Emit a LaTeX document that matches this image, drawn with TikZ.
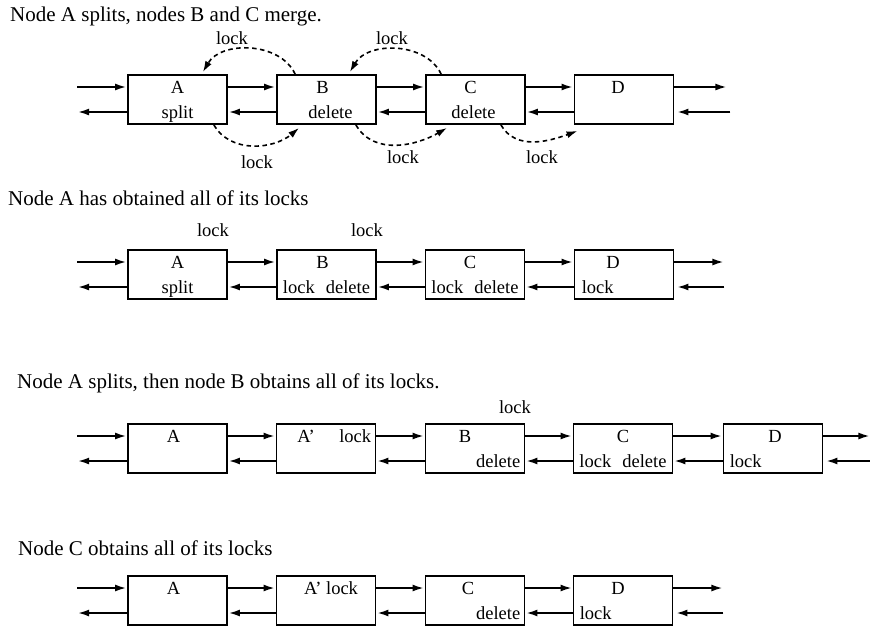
\documentclass[tikz,border=0pt]{standalone}
\usepackage{fontspec}
\setmainfont{Liberation Serif}
\usetikzlibrary{arrows.meta}

\begin{document}
\begin{tikzpicture}[x=1pt,y=-1pt,>={Latex[length=11pt,width=7pt]},
    box/.style={draw,line width=1.8pt,minimum width=99pt,minimum height=49pt,inner sep=0pt},
    txt/.style={inner sep=0pt,text height=12pt,text depth=0pt,font=\fontsize{18.5}{18.5}\selectfont},
    ttl/.style={anchor=west,inner sep=0pt,text height=14pt,text depth=0pt,font=\fontsize{21}{21}\selectfont},
    link/.style={->,line width=1.7pt,shorten >=1pt},
    lockarc/.style={->,line width=1.6pt,dash pattern=on 4.5pt off 3.5pt}]

\useasboundingbox (0,0) rectangle (870,627);

% Row 1
\node[ttl] (t1) at (10,14) {Node A splits, nodes B and C merge.};
\node[box] (A1) at (177.5,99.5) {};
\node[box] (B1) at (326.5,99.5) {};
\node[box] (C1) at (475.5,99.5) {};
\node[box] (D1) at (624,99.5) {};

\node[txt] (a1) at ([yshift=12.5pt]A1.center) {A};
\node[txt] (s1) at ([yshift=-12.5pt]A1.center) {split};
\node[txt] (b1) at ([xshift=-4pt,yshift=12.5pt]B1.center) {B};
\node[txt] (d1) at ([xshift=4pt,yshift=-12.5pt]B1.center) {delete};
\node[txt] (c1) at ([xshift=-5pt,yshift=12.5pt]C1.center) {C};
\node[txt] (e1) at ([xshift=-2pt,yshift=-12.5pt]C1.center) {delete};
\node[txt] (dd1) at ([xshift=-6pt,yshift=12.5pt]D1.center) {D};

\coordinate (L1) at ([xshift=-50pt]A1.west);
\coordinate (R1) at ([xshift=53pt]D1.east);
\draw[link] ([yshift=12.5pt]L1) -- ([yshift=12.5pt]A1.west);
\draw[link] ([yshift=-12.5pt]A1.west) -- ([yshift=-12.5pt]L1);
\foreach \a/\b in {A1/B1,B1/C1,C1/D1} {
  \draw[link] ([yshift=12.5pt]\a.east) -- ([yshift=12.5pt]\b.west);
  \draw[link] ([yshift=-12.5pt]\b.west) -- ([yshift=-12.5pt]\a.east);
}
\draw[link] ([yshift=12.5pt]D1.east) -- ([yshift=12.5pt]R1);
\draw[link,shorten >=3pt] ([xshift=3pt,yshift=-12.5pt]R1) -- ([yshift=-12.5pt]D1.east);

% Lock requests
\draw[lockarc] ([xshift=19pt]B1.north west) to[out=115,in=60] ([xshift=-25pt,yshift=2pt]A1.north east);
\draw[lockarc] ([xshift=16pt]C1.north west) to[out=115,in=60] ([xshift=-27pt,yshift=2pt]B1.north east);
\draw[lockarc] ([xshift=-14pt]A1.south east) to[out=-60,in=-140] ([xshift=23pt,yshift=-3pt]B1.south west);
\draw[lockarc] ([xshift=-21pt]B1.south east) to[out=-60,in=-150] ([xshift=22pt,yshift=-3pt]C1.south west);
\draw[lockarc] ([xshift=-25pt]C1.south east) to[out=-60,in=-160] ([xshift=4pt,yshift=-6pt]D1.south west);

\node[txt] (lk1) at (232,38) {lock};
\node[txt] (lk2) at (392,38) {lock};
\node[txt] (lk3) at (257,162) {lock};
\node[txt] (lk4) at (403,157) {lock};
\node[txt] (lk5) at (542,157) {lock};

% Row 2
\node[ttl] (t2) at (8,198) {Node A has obtained all of its locks};
\node[box] (A2) at (177.5,274.5) {};
\node[box] (B2) at (326.5,274.5) {};
\node[box] (C2) at (475,274.5) {};
\node[box] (D2) at (624,274.5) {};

\node[txt] (a2) at ([yshift=12.5pt]A2.center) {A};
\node[txt] (s2) at ([yshift=-12.5pt]A2.center) {split};
\node[txt] (b2) at ([xshift=-4pt,yshift=12.5pt]B2.center) {B};
\node[txt] (d2) at ([yshift=-12.5pt]B2.center) {lock\hspace{11pt}delete};
\node[txt] (c2) at ([xshift=-5pt,yshift=12.5pt]C2.center) {C};
\node[txt] (e2) at ([yshift=-12.5pt]C2.center) {lock\hspace{11pt}delete};
\node[txt] (dd2) at ([xshift=-11pt,yshift=12.5pt]D2.center) {D};
\node[txt,anchor=west] (k2) at ([xshift=8pt,yshift=-12.5pt]D2.west) {lock};

\coordinate (L2) at ([xshift=-50pt]A2.west);
\coordinate (R2) at ([xshift=50pt]D2.east);
\draw[link] ([yshift=12.5pt]L2) -- ([yshift=12.5pt]A2.west);
\draw[link] ([yshift=-12.5pt]A2.west) -- ([yshift=-12.5pt]L2);
\foreach \a/\b in {A2/B2,B2/C2,C2/D2} {
  \draw[link] ([yshift=12.5pt]\a.east) -- ([yshift=12.5pt]\b.west);
  \draw[link] ([yshift=-12.5pt]\b.west) -- ([yshift=-12.5pt]\a.east);
}
\draw[link] ([yshift=12.5pt]D2.east) -- ([yshift=12.5pt]R2);
\draw[link,shorten >=3pt] ([yshift=-12.5pt]R2) -- ([yshift=-12.5pt]D2.east);

\node[txt] (lk6) at (213,230) {lock};
\node[txt] (lk7) at (367,230) {lock};

% Row 3
\node[ttl] (t3) at (17,381) {Node A splits, then node B obtains all of its locks.};
\node[box] (A3) at (177.5,448.5) {};
\node[box] (P3) at (326,448.5) {};
\node[box] (B3) at (475,448.5) {};
\node[box] (C3) at (623,448.5) {};
\node[box] (D3) at (773,448.5) {};

\node[txt] (a3) at ([xshift=-4pt,yshift=12.5pt]A3.center) {A};
\node[txt] (p3) at ([xshift=-20pt,yshift=12.5pt]P3.center) {A'};
\node[txt,anchor=east] (q3) at ([xshift=-5pt,yshift=12.5pt]P3.east) {lock};
\node[txt] (b3) at ([xshift=-10pt,yshift=12.5pt]B3.center) {B};
\node[txt,anchor=east] (d3) at ([xshift=-5pt,yshift=-12.5pt]B3.east) {delete};
\node[txt] (c3) at ([yshift=12.5pt]C3.center) {C};
\node[txt] (e3) at ([yshift=-12.5pt]C3.center) {lock\hspace{11pt}delete};
\node[txt] (dd3) at ([xshift=2pt,yshift=12.5pt]D3.center) {D};
\node[txt,anchor=west] (k3) at ([xshift=7pt,yshift=-12.5pt]D3.west) {lock};

\coordinate (L3) at ([xshift=-50pt]A3.west);
\coordinate (R3) at ([xshift=47pt]D3.east);
\draw[link] ([yshift=12.5pt]L3) -- ([yshift=12.5pt]A3.west);
\draw[link] ([yshift=-12.5pt]A3.west) -- ([yshift=-12.5pt]L3);
\foreach \a/\b in {A3/P3,P3/B3,B3/C3,C3/D3} {
  \draw[link] ([yshift=12.5pt]\a.east) -- ([yshift=12.5pt]\b.west);
  \draw[link] ([yshift=-12.5pt]\b.west) -- ([yshift=-12.5pt]\a.east);
}
\draw[link] ([yshift=12.5pt]D3.east) -- ([yshift=12.5pt]R3);
\draw[link,shorten >=3pt] ([yshift=-12.5pt]R3) -- ([yshift=-12.5pt]D3.east);

\node[txt] (lk8) at (515,407) {lock};

% Row 4
\node[ttl] (t4) at (18,548) {Node C obtains all of its locks};
\node[box] (A4) at (177.5,600.5) {};
\node[box] (P4) at (326,600.5) {};
\node[box] (C4) at (475,600.5) {};
\node[box] (D4) at (623,600.5) {};

\node[txt] (a4) at ([xshift=-4pt,yshift=12.5pt]A4.center) {A};
\node[txt] (p4) at ([xshift=5pt,yshift=12.5pt]P4.center) {A' lock};
\node[txt] (c4) at ([xshift=-7pt,yshift=12.5pt]C4.center) {C};
\node[txt,anchor=east] (d4) at ([xshift=-5pt,yshift=-12.5pt]C4.east) {delete};
\node[txt] (dd4) at ([xshift=-5pt,yshift=12.5pt]D4.center) {D};
\node[txt,anchor=west] (k4) at ([xshift=7pt,yshift=-12.5pt]D4.west) {lock};

\coordinate (L4) at ([xshift=-50pt]A4.west);
\coordinate (R4) at ([xshift=50pt]D4.east);
\draw[link] ([yshift=12.5pt]L4) -- ([yshift=12.5pt]A4.west);
\draw[link] ([yshift=-12.5pt]A4.west) -- ([yshift=-12.5pt]L4);
\foreach \a/\b in {A4/P4,P4/C4,C4/D4} {
  \draw[link] ([yshift=12.5pt]\a.east) -- ([yshift=12.5pt]\b.west);
  \draw[link] ([yshift=-12.5pt]\b.west) -- ([yshift=-12.5pt]\a.east);
}
\draw[link] ([yshift=12.5pt]D4.east) -- ([yshift=12.5pt]R4);
\draw[link,shorten >=3pt] ([yshift=-12.5pt]R4) -- ([yshift=-12.5pt]D4.east);

\end{tikzpicture}
\end{document}
